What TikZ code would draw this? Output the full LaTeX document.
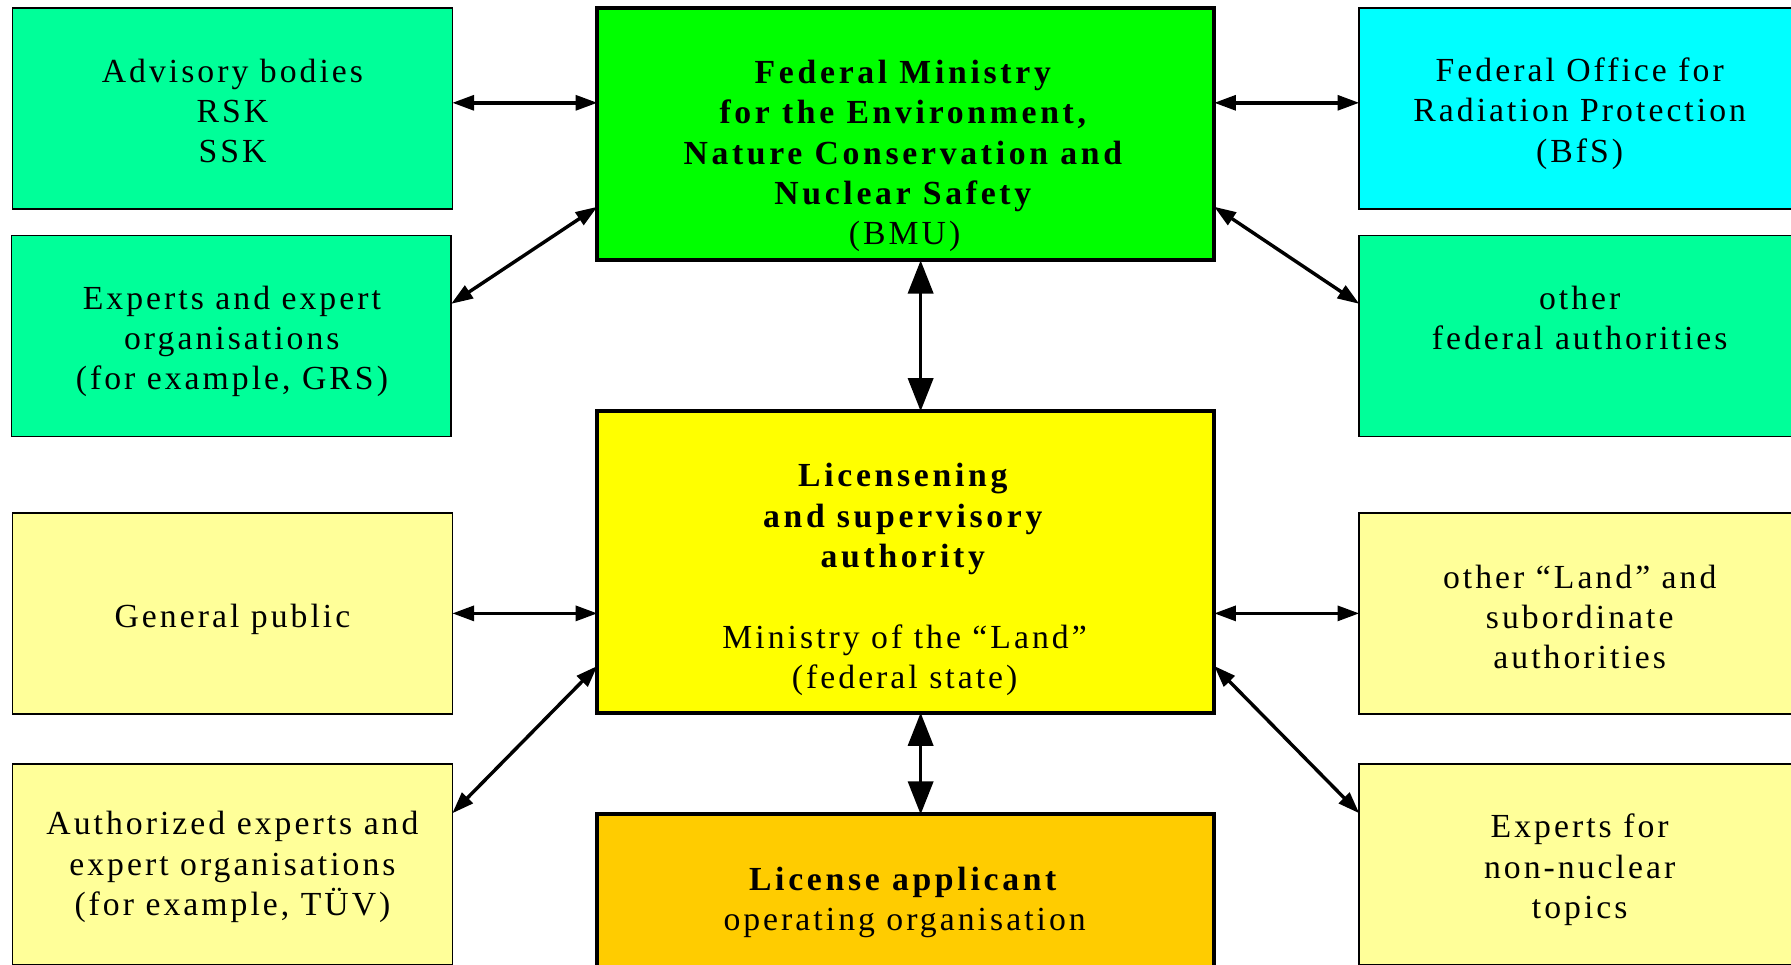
\documentclass[tikz,border=0pt]{standalone}
\usepackage{fontspec}
\setmainfont{Liberation Serif}[LetterSpace=9,BoldFeatures={LetterSpace=11}]
\usetikzlibrary{arrows.meta}
\definecolor{springg}{HTML}{00FF99}
\definecolor{brightg}{HTML}{00FF00}
\definecolor{cyanb}{HTML}{00FFFF}
\definecolor{yellowb}{HTML}{FFFF00}
\definecolor{lightyel}{HTML}{FFFF99}
\definecolor{orangeb}{HTML}{FFCC00}
\tikzset{
  x=1pt, y=-1pt,
  sidebox/.style={draw=black, line width=1.4pt, inner sep=0pt, outer sep=0pt,
    minimum width=385pt, minimum height=176pt},
  mainbox/.style={draw=black, line width=3.5pt, inner sep=0pt, outer sep=0pt,
    minimum width=540pt},
  txt/.style={align=center, inner sep=0pt, font=\fontsize{29.5}{35.3}\selectfont},
  arr/.style={line width=3pt, {Triangle[length=19pt,width=13pt]}-{Triangle[length=19pt,width=13pt]}},
  varr/.style={line width=3pt, {Triangle[length=29pt,width=22pt]}-{Triangle[length=29pt,width=22pt]}},
}
\begin{document}
\begin{tikzpicture}
\useasboundingbox (0,0) rectangle (1568,844);
\clip (0,0) rectangle (1568,844);
% left column
\node[sidebox, fill=springg] (adv) at (203.5,95) {};
\node[sidebox, fill=springg] (grs) at (202.5,294) {};
\node[sidebox, fill=lightyel] (pub) at (203.5,537) {};
\node[sidebox, fill=lightyel] (tuv) at (203.5,757) {};
% centre column
\node[mainbox, fill=brightg, minimum height=221pt] (bmu) at (793,117.5) {};
\node[mainbox, fill=yellowb, minimum height=264pt] (lic) at (793,492) {};
\node[mainbox, fill=orangeb, minimum height=176pt] (app) at (793,801) {};
% right column
\node[sidebox, minimum width=386pt, fill=cyanb] (bfs) at (1383,95) {};
\node[sidebox, minimum width=386pt, fill=springg] (ofed) at (1383,294) {};
\node[sidebox, minimum width=386pt, fill=lightyel] (oland) at (1383,537) {};
\node[sidebox, minimum width=386pt, fill=lightyel] (nn) at (1383,757) {};
% texts
\node[txt] (tadv) at (203.5,97) {Advisory bodies\\RSK\\SSK};
\node[txt] (tgrs) at (203,299) {Experts and expert\\organisations\\(for example, GRS)};
\node[txt] (tpub) at (203.5,542) {General public};
\node[txt] (ttuv) at (203.5,759) {Authorized experts and\\expert organisations\\(for example, TÜV)};
\node[txt] (tbmu) at (792,136.5) {\textbf{Federal Ministry}\\\textbf{for the Environment,}\\\textbf{Nature Conservation and}\\\textbf{Nuclear Safety}\\(BMU)};
\node[txt] (tlic) at (792,507.5) {\textbf{Licensening}\\\textbf{and supervisory}\\\textbf{authority}\\[35.3pt]Ministry of the “Land”\\(federal state)};
\node[txt] (tapp) at (792,790) {\textbf{License applicant}\\operating organisation};
\node[txt] (tbfs) at (1383,99.5) {Federal Office for\\Radiation Protection\\(BfS)};
\node[txt] (tofed) at (1383,278.5) {other\\federal authorities};
\node[txt] (toland) at (1383,540) {other “Land” and\\subordinate\\authorities};
\node[txt] (tnn) at (1383,761.5) {Experts for\\non-nuclear\\topics};
% connectors
\draw[arr] ([yshift=5pt]adv.east) -- ([yshift=5pt]adv.east -| bmu.west);
\draw[arr] ([yshift=-60pt]grs.north east) -- ([yshift=47pt]bmu.south west);
\draw[arr] ([yshift=5pt]bfs.west -| bmu.east) -- ([yshift=5pt]bfs.west);
\draw[arr] ([yshift=47pt]bmu.south east) -- ([yshift=-60pt]ofed.north west);
\draw[varr] ([xshift=13pt]bmu.south) -- ([xshift=13pt]lic.north);
\draw[arr] (pub.east) -- (pub.east -| lic.west);
\draw[arr] ([yshift=-43pt]tuv.north east) -- ([yshift=41pt]lic.south west);
\draw[arr] (oland.west -| lic.east) -- (oland.west);
\draw[arr] ([yshift=41pt]lic.south east) -- ([yshift=-43pt]nn.north west);
\draw[varr] ([xshift=13pt]lic.south) -- ([xshift=13pt]app.north);
\end{tikzpicture}
\end{document}
